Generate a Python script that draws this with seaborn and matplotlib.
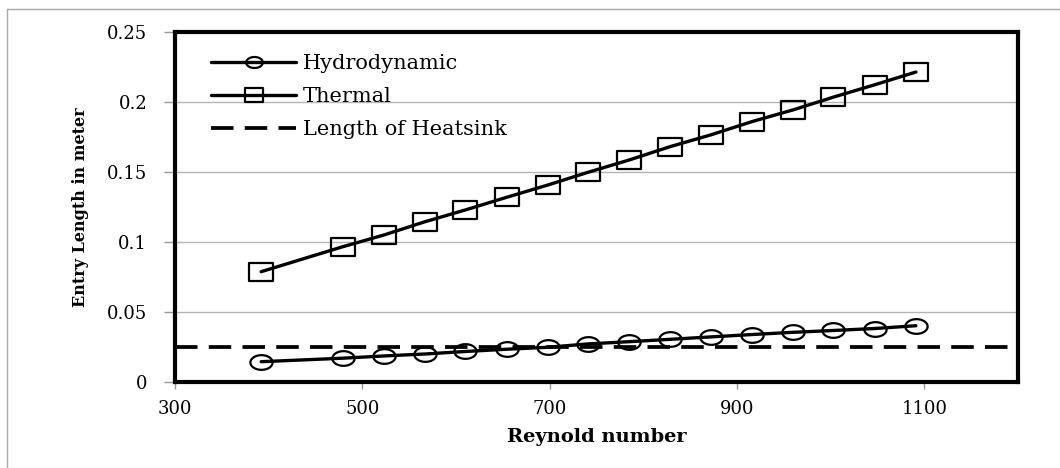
import matplotlib
matplotlib.use("Agg")
import numpy as np
import matplotlib.pyplot as plt
import seaborn as sns
import pandas as pd
from matplotlib.patches import Rectangle
from matplotlib.path import Path

reynolds = [392, 479, 523, 567, 610, 654, 698, 741, 785, 829, 872, 916, 960, 1003, 1047, 1091]
thermal = [0.0788, 0.0966, 0.1050, 0.1145, 0.1229, 0.1319, 0.1407, 0.1498,
           0.1586, 0.1682, 0.1765, 0.1860, 0.1944, 0.2035, 0.2123, 0.2214]
hydro = [0.0145, 0.0170, 0.0186, 0.0200, 0.0218, 0.0234, 0.0248, 0.0272,
         0.0288, 0.0305, 0.0322, 0.0339, 0.0355, 0.0368, 0.0382, 0.0402]
heatsink_length = 0.025
x_ticks = [300, 500, 700, 900, 1100]
y_ticks = [0, 0.05, 0.1, 0.15, 0.2, 0.25]
y_tick_labels = ["0", "0.05", "0.1", "0.15", "0.2", "0.25"]

# wide (horizontally stretched) marker shapes as in the reference
t = np.linspace(0, 2 * np.pi, 60)
ellipse_marker = Path(np.column_stack([np.cos(t), 0.66 * np.sin(t)]), closed=True)
rect_marker = Path([(-1, -0.8), (1, -0.8), (1, 0.8), (-1, 0.8), (-1, -0.8)], closed=True)

sns.set_style("white")
plt.rcParams["font.family"] = ["DejaVu Serif"]
plt.rcParams["text.color"] = "black"
plt.rcParams["axes.labelcolor"] = "black"

fig = plt.figure(figsize=(10.6, 4.68), dpi=100)
W, H = 1060, 468
ax = fig.add_axes([175 / W, 1 - 382 / H, (1018 - 175) / W, (382 - 32) / H])

df_h = pd.DataFrame({"Re": reynolds, "L": hydro})
df_t = pd.DataFrame({"Re": reynolds, "L": thermal})

sns.lineplot(data=df_h, x="Re", y="L", ax=ax, color="black", linewidth=2.4,
             marker=ellipse_marker, markersize=16, markerfacecolor="none",
             markeredgecolor="black", markeredgewidth=1.6, label="Hydrodynamic", zorder=4)
sns.lineplot(data=df_t, x="Re", y="L", ax=ax, color="black", linewidth=2.4,
             marker=rect_marker, markersize=17, markerfacecolor="none",
             markeredgecolor="black", markeredgewidth=1.6, label="Thermal", zorder=4)
ax.axhline(heatsink_length, color="black", linewidth=2.7, linestyle=(0, (6, 3)),
           label="Length of Heatsink", zorder=3)

ax.set_xlim(300, 1200)
ax.set_ylim(0, 0.25)
ax.set_xticks(x_ticks)
ax.set_xticklabels([str(v) for v in x_ticks])
ax.set_yticks(y_ticks)
ax.set_yticklabels(y_tick_labels)

ax.yaxis.grid(True, color="#b4b4b4", linewidth=1.0)
ax.xaxis.grid(False)
ax.set_axisbelow(True)

for s in ax.spines.values():
    s.set_visible(True)
    s.set_color("black")
    s.set_linewidth(3.0)

ax.tick_params(axis="y", which="major", direction="out", length=8, width=1,
               color="#999999", pad=12, labelsize=13, left=True, labelcolor="black")
ax.tick_params(axis="x", which="major", direction="out", length=5, width=1,
               color="#999999", pad=8, labelsize=13, bottom=True, labelcolor="black")

ax.set_xlabel("Reynold number", fontsize=14, fontweight="bold", labelpad=7)
ax.set_ylabel("Entry Length in meter", fontsize=11.5, fontweight="bold", labelpad=13)

leg = ax.legend(loc="upper left", bbox_to_anchor=(211 / W, 1 - 54 / H),
                bbox_transform=fig.transFigure, frameon=False, fontsize=15,
                handlelength=4.1, handletextpad=0.3, labelspacing=0.68,
                borderpad=0, borderaxespad=0, markerscale=0.75)

fig.patches.append(Rectangle((7 / W, -0.1), 1.2, 1 - 9 / H + 0.1,
                             transform=fig.transFigure, fill=False,
                             edgecolor="#a8a8a8", linewidth=1.0))

fig.savefig("out.png", dpi=100)
